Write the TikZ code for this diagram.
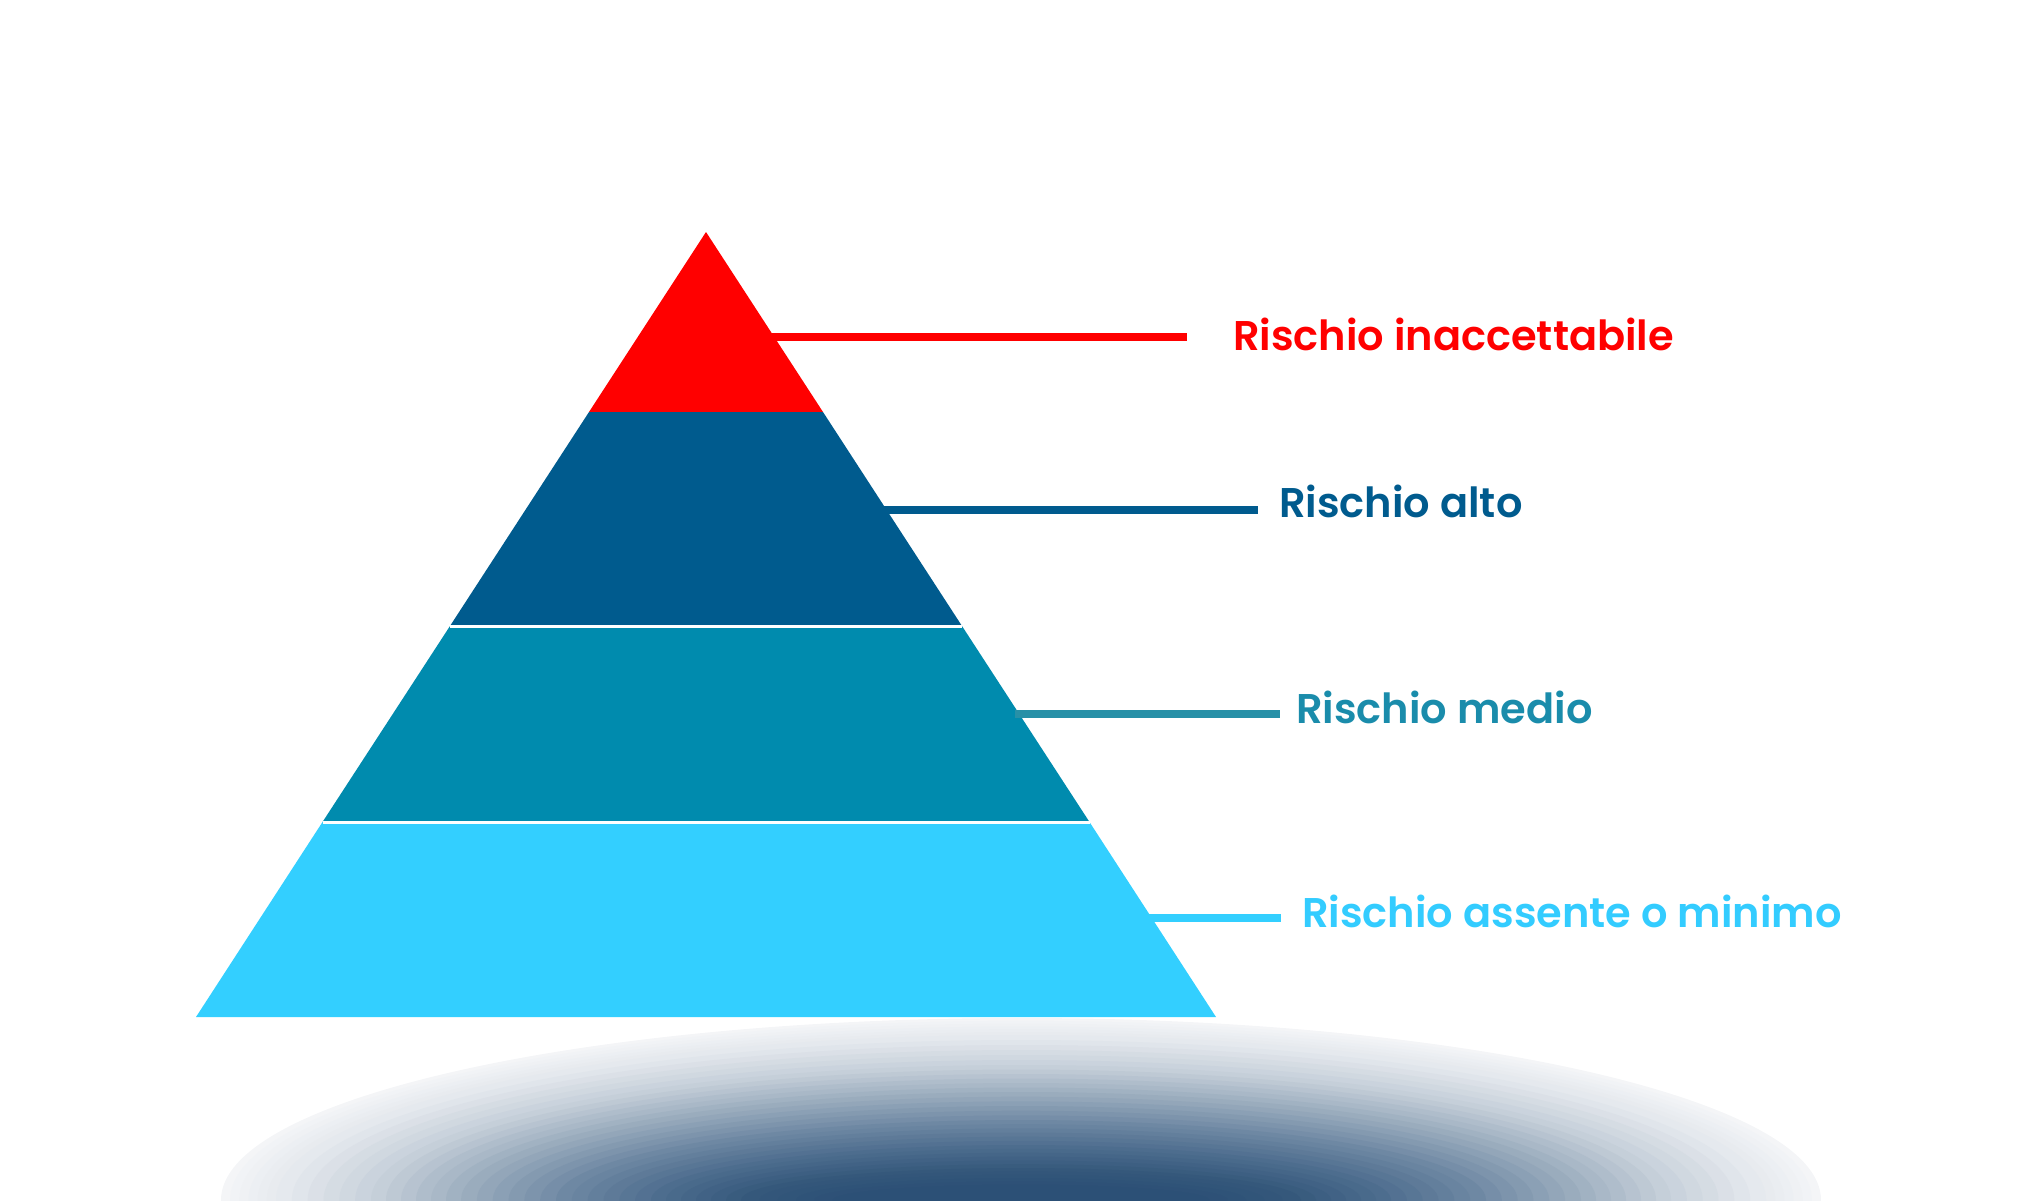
\documentclass[tikz,border=0pt]{standalone}
\usepackage{xcolor}
\usepackage{fontspec}
\newfontfamily\labelfont{Poppins}[UprightFont={* SemiBold}]
\usepackage{tikz}
\usetikzlibrary{calc}
\usetikzlibrary{positioning}

\definecolor{riskred}{HTML}{FF0000}
\definecolor{riskhigh}{HTML}{005B8E}
\definecolor{riskmid}{HTML}{008BAE}
\definecolor{risklow}{HTML}{33CFFF}
\definecolor{midline}{HTML}{2790A7}
\definecolor{midtext}{HTML}{1A8CAB}
\definecolor{lowtext}{HTML}{33CCFF}
\definecolor{shadeZ}{HTML}{2A4E75}
\definecolor{shadeA}{HTML}{35587B}
\definecolor{shadeB}{HTML}{4D6D8E}
\definecolor{shadeC}{HTML}{6E88A3}
\definecolor{shadeD}{HTML}{9AACBD}
\definecolor{shadeE}{HTML}{C5CFD9}
\definecolor{shadeF}{HTML}{E5E9EE}
\definecolor{shadeG}{HTML}{F4F5F7}

\begin{document}
\begin{tikzpicture}[x=1pt, y=-1pt,
  leader/.style={line width=7.5pt},
  risk/.style={anchor=base west, inner sep=0pt, font=\labelfont\fontsize{41.5}{41.5}\selectfont}]
\useasboundingbox (0,0) rectangle (2040,1200);

% shadow under the pyramid (nested ellipses, outer to inner)
\begin{scope}
\clip (0,0) rectangle (2040,1200);
\foreach \rxa/\rya/\ca/\rxb/\ryb/\cb in {
    800/182/shadeG/745/165/shadeF, 745/165/shadeF/650/135/shadeE,
    650/135/shadeE/560/108/shadeD, 560/108/shadeD/465/80/shadeC,
    465/80/shadeC/370/55/shadeB, 370/55/shadeB/280/32/shadeA,
    280/32/shadeA/170/12/shadeZ}{
  \foreach \k in {0,...,5}{
    \pgfmathsetmacro{\rxk}{\rxa+(\rxb-\rxa)*\k/6}
    \pgfmathsetmacro{\ryk}{\rya+(\ryb-\rya)*\k/6}
    \pgfmathtruncatemacro{\pct}{100*\k/6}
    \fill [\cb!\pct!\ca] (1021,1200) ellipse [x radius=\rxk, y radius=\ryk];
  }
}
\end{scope}

% pyramid
\coordinate (apex) at (706,232);
\coordinate (l1) at (589,412);
\coordinate (r1) at (823,412);
\coordinate (l2) at (450,626);
\coordinate (r2) at (962,626);
\coordinate (l3) at (322.5,822);
\coordinate (r3) at (1089.5,822);
\coordinate (l4) at (196,1017);
\coordinate (r4) at (1216,1017);
\fill [riskred] (apex) -- (r1) -- (l1) -- cycle;
\fill [riskhigh] (l1) -- (r1) -- (r2) -- (l2) -- cycle;
\fill [riskmid] (l2) -- (r2) -- (r3) -- (l3) -- cycle;
\fill [risklow] (l3) -- (r3) -- (r4) -- (l4) -- cycle;
\draw [white, line width=3pt] (l2) -- (r2);
\draw [white, line width=3pt] (l3) -- (r3);

% labels
\node [risk, text=riskred] (top) at (1233,350) {Rischio inaccettabile};
\node [risk, text=riskhigh] (high) at (1279,517) {Rischio alto};
\node [risk, text=midtext] (mid) at (1296,723) {Rischio medio};
\node [risk, text=lowtext] (low) at (1302,927) {Rischio assente o minimo};

% leaders
\coordinate (topstart) at (770,337);
\coordinate (highstart) at (884,510);
\coordinate (midstart) at (1015,714);
\coordinate (lowstart) at (1148,918);
\draw [leader, riskred, shorten >=46pt] (topstart) -- (topstart -| top.west);
\draw [leader, riskhigh, shorten >=21pt] (highstart) -- (highstart -| high.west);
\draw [leader, midline, shorten >=16pt] (midstart) -- (midstart -| mid.west);
\draw [leader, risklow, shorten >=21pt] (lowstart) -- (lowstart -| low.west);
\end{tikzpicture}
\end{document}
